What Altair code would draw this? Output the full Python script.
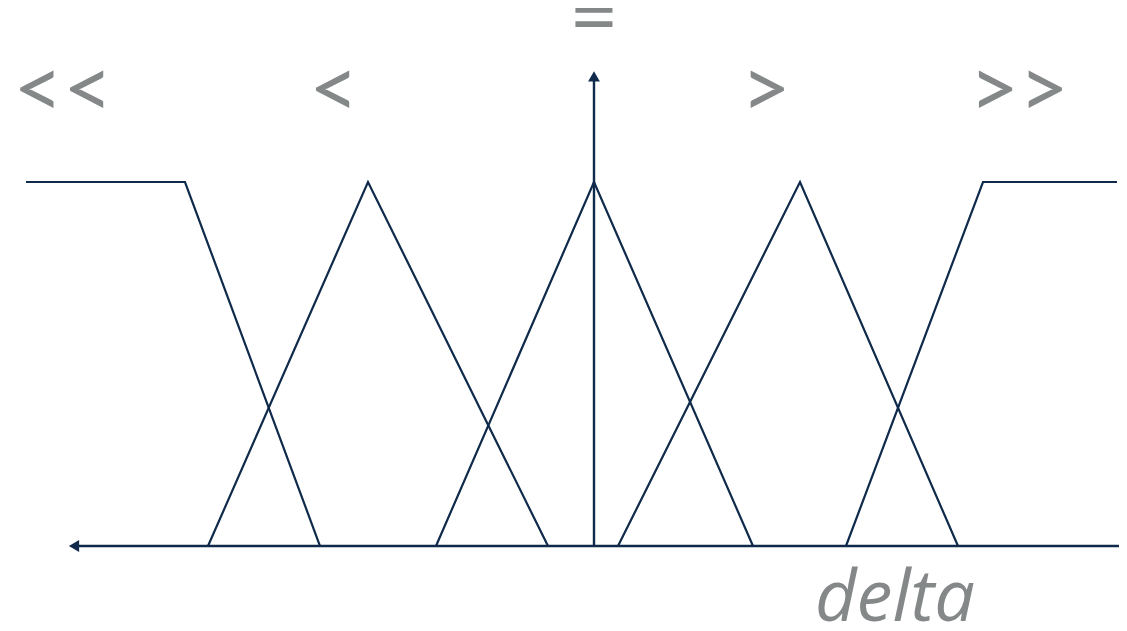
import altair as alt
import pandas as pd

# membership function breakpoints (delta units) and membership degrees
set_names = ["<<", "<", "=", ">", ">>"]
set_x = [
    [-5.68, -4.09, -2.74],
    [-3.86, -2.26, -0.46],
    [-1.58, 0.00, 1.59],
    [0.24, 2.06, 3.64],
    [2.52, 3.89, 5.23],
]
set_mu = [
    [1, 1, 0],
    [0, 1, 0],
    [0, 1, 0],
    [0, 1, 0],
    [0, 1, 1],
]
label_x = [-5.31, -2.60, 0.00, 1.72, 4.25]
label_mu = [1.247, 1.247, 1.445, 1.247, 1.247]

# axes
xaxis_from, xaxis_to = -5.20, 5.40
yaxis_top = 1.29

NAVY = "#0f2a4a"
GRAY = "#858889"

rows = []
for name, xs, ms in zip(set_names, set_x, set_mu):
    for i, (x, m) in enumerate(zip(xs, ms)):
        rows.append({"set": name, "i": i, "x": x, "mu": m})
df = pd.DataFrame(rows)

xs = alt.Scale(domain=[-5.86, 5.25], nice=False, zero=False)
ys = alt.Scale(domain=[-0.2115, 1.478], nice=False, zero=False)
X = lambda f: alt.X(f, type="quantitative", scale=xs, axis=None)
Y = lambda f: alt.Y(f, type="quantitative", scale=ys, axis=None)

lines = alt.Chart(df).mark_line(color=NAVY, strokeWidth=2.2, clip=False).encode(
    x=X("x"), y=Y("mu"), detail="set:N", order="i:Q"
)

ax_df = pd.DataFrame({"x": [xaxis_from], "x2": [xaxis_to], "y": [0.0]})
haxis = alt.Chart(ax_df).mark_rule(color=NAVY, strokeWidth=2.6, clip=False).encode(
    x=X("x"), x2="x2", y=Y("y")
)
vax_df = pd.DataFrame({"x": [0.0], "y": [0.0], "y2": [yaxis_top]})
vaxis = alt.Chart(vax_df).mark_rule(color=NAVY, strokeWidth=2.4).encode(
    x=X("x"), y=Y("y"), y2="y2"
)
left_arrow = alt.Chart(pd.DataFrame({"x": [xaxis_from], "y": [0.0]})).mark_point(
    shape="triangle-left", filled=True, color=NAVY, size=140, opacity=1
).encode(x=X("x"), y=Y("y"))
up_arrow = alt.Chart(pd.DataFrame({"x": [0.0], "y": [yaxis_top]})).mark_point(
    shape="triangle-up", filled=True, color=NAVY, size=140, opacity=1
).encode(x=X("x"), y=Y("y"))

lab_df = pd.DataFrame({"t": set_names, "x": label_x, "y": label_mu})
labels = alt.Chart(lab_df).mark_text(
    color=GRAY, font="Lato", fontSize=86, align="center", baseline="middle"
).encode(x=X("x"), y=Y("y"), text="t:N")

delta_df = pd.DataFrame({"t": ["delta"], "x": [3.01], "y": [-0.146]})
delta = alt.Chart(delta_df).mark_text(
    color=GRAY, font="Open Sans", fontSize=72, fontStyle="italic", align="center", baseline="middle"
).encode(x=X("x"), y=Y("y"), text="t:N")

chart = alt.layer(lines, haxis, vaxis, left_arrow, up_arrow, labels, delta).properties(
    width=1111, height=615, padding=0, autosize=alt.AutoSizeParams(type="none")
).configure_view(stroke=None)

chart.save("out.html", embed_options={"renderer": "svg", "actions": False})
